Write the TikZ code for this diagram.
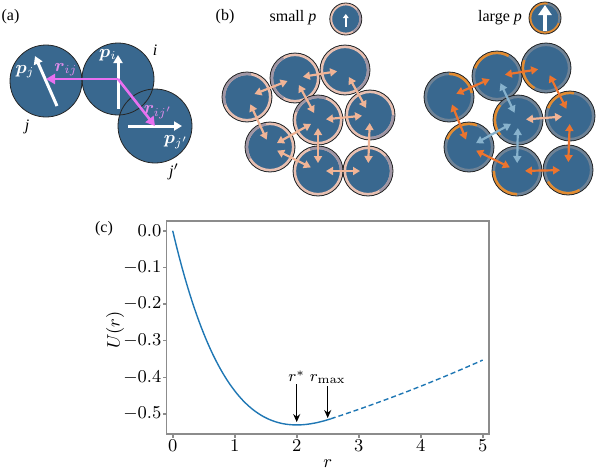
\documentclass[tikz,border=0pt]{standalone}
\usepackage[no-math]{fontspec}
\usepackage{bm}
\usetikzlibrary{arrows.meta}
\newfontfamily\tms{Liberation Serif}
\definecolor{disc}{RGB}{57,104,143}
\definecolor{rvec}{RGB}{232,112,240}
\definecolor{rlab}{RGB}{225,140,235}
\definecolor{peach}{RGB}{240,180,150}
\definecolor{pring}{RGB}{232,192,178}
\definecolor{gring}{RGB}{160,150,165}
\definecolor{orng}{RGB}{236,116,46}
\definecolor{oring}{RGB}{226,140,50}
\definecolor{bring}{RGB}{110,130,150}
\definecolor{lblue}{RGB}{135,178,205}
\definecolor{mplblue}{RGB}{31,119,180}
\begin{document}
\begin{tikzpicture}[x=0.5pt,y=-0.5pt,line width=0.4pt,
  rim/.style={draw=black!85},
  ring/.style={line width=1.4pt},
  pol/.style={white,line width=1.5pt,-{Triangle[length=4pt,width=4.5pt]}},
  rv/.style={rvec,line width=1.3pt,-{Triangle[length=4.5pt,width=5pt]}},
  pair/.style={line width=1.1pt,{Triangle[length=3.5pt,width=4pt]}-{Triangle[length=3.5pt,width=4pt]},shorten <=4pt,shorten >=4pt},
  lab/.style={font=\tms\footnotesize},
  ital/.style={font=\tms\itshape\footnotesize},
  vlab/.style={font=\small},
  ticklab/.style={inner sep=1pt,font=\small}]
\useasboundingbox (0,0) rectangle (600,473);
% (a)
\node[lab] (la) at (10.5,17) {(a)};
\coordinate (j) at (46,81);
\coordinate (i) at (118,79);
\coordinate (jp) at (155,126);
\fill[disc] (j) circle[radius=36];
\fill[disc] (jp) circle[radius=37];
\fill[disc] (i) circle[radius=36];
\draw[rim] (j) circle[radius=36];
\draw[rim] (jp) circle[radius=37];
\draw[rim] (i) circle[radius=36];
\draw[pol] ([shift={(11,25)}]j) -- ([shift={(-11,-25)}]j);
\draw[pol] ([shift={(0,30)}]i) -- ([shift={(0,-24)}]i);
\draw[pol] ([shift={(-27,0)}]jp) -- ([shift={(27,0)}]jp);
\draw[rv] (i) -- (i -| j);
\draw[rv] (i) -- (jp);
\node[white,vlab] at (25,72) {$\bm{p}_j$};
\node[white,vlab] at (108,55) {$\bm{p}_i$};
\node[white,vlab] at (176,142) {$\bm{p}_{j'}$};
\node[rlab,vlab] at (66,70) {$\bm{r}_{ij}$};
\node[rlab,vlab] at (158,112) {$\bm{r}_{ij'}$};
\node[ital] at (155,50) {i};
\node[ital] at (27,127) {j};
\node[ital] at (174,172) {j$'$};
% (b)
\node[lab] (lb) at (225,17) {(b)};
\node[lab] at (293,18) {small {\itshape p}};
\node[lab] at (500,18) {large {\itshape p}};
\coordinate (ps) at (345.8,19);
\coordinate (pl) at (545,18);
\fill[disc] (ps) circle[radius=16];
\draw[pring,line width=1.2pt] (ps) circle[radius=14.8];
\draw[gring,line width=1.2pt] ([shift={(-40:14.8)}]ps) arc[start angle=-40,end angle=60,radius=14.8];
\draw[rim] (ps) circle[radius=16];
\draw[white,line width=0.8pt,-{Triangle[length=2pt,width=2.8pt]}] ([shift={(0,8)}]ps) -- ([shift={(0,-5)}]ps);
\fill[disc] (pl) circle[radius=16];
\draw[oring,line width=1.2pt] (pl) circle[radius=14.8];
\draw[bring,line width=1.2pt] ([shift={(-80:14.8)}]pl) arc[start angle=-80,end angle=20,radius=14.8];
\draw[rim] (pl) circle[radius=16];
\draw[white,line width=2pt,-{Triangle[length=5pt,width=6.5pt]}] ([shift={(0,13)}]pl) -- ([shift={(0,-13)}]pl);
\foreach \n/\x/\y/\a/\b in {1/295/78/120/240,2/345/70/-30/60,3/247/97/160/280,4/318/120/200/290,
    5/370/115/0/90,6/270/147/150/260,7/318/171/250/360,8/368/171/-40/60}{
  \coordinate (s\n) at (\x,\y);
  \fill[disc] (s\n) circle[radius=25];
  \draw[pring,ring] (s\n) circle[radius=23.3];
  \draw[gring,ring] ([shift={(\a:23.3)}]s\n) arc[start angle=\a,end angle=\b,radius=23.3];
  \draw[rim] (s\n) circle[radius=25];
}
\foreach \n/\x/\y/\a/\b in {1/497/76/200/300,2/546/68/120/200,3/449/97/270/350,4/518/120/140/220,
    5/570/116/200/280,6/469/147/200/290,7/517/171/90/180,8/568/170/60/150}{
  \coordinate (l\n) at (\x,\y);
  \fill[disc] (l\n) circle[radius=25];
  \draw[bring,ring] (l\n) circle[radius=23.3];
  \draw[oring,ring] ([shift={(\a:23.3)}]l\n) arc[start angle=\a,end angle=\b,radius=23.3];
  \draw[rim] (l\n) circle[radius=25];
}
\foreach \p/\q in {1/2,1/3,1/4,2/5,3/6,4/5,4/6,4/7,5/8,6/7,7/8}
  \draw[pair,peach] (s\p) -- (s\q);
\foreach \p/\q/\c in {1/2/orng,1/3/orng,1/4/lblue,2/5/orng,3/6/orng,4/5/peach,4/6/lblue,4/7/lblue,5/8/orng,6/7/orng,7/8/orng}
  \draw[pair,\c] (l\p) -- (l\q);
% (c)
\node[lab] (lc) at (104,229) {(c)};
\begin{scope}[shift={(172.7,230.7)},x=31pt,y=183.3pt]
\draw[black!45,line width=0.8pt] (-0.097,-0.5546) rectangle (5.106,0.027);
\foreach \t in {0,...,5}{
  \draw[black!45,line width=0.8pt] (\t,-0.5546) -- ++(0,-0.011);
  \node[ticklab,anchor=base] at (\t,-0.603) {$\t$};
}
\foreach \u/\s in {0/0.0,1/-0.1,2/-0.2,3/-0.3,4/-0.4,5/-0.5}{
  \draw[black!45,line width=0.8pt] (-0.097,-\u/10) -- ++(-0.065,0);
  \node[ticklab,anchor=east] at (-0.145,-\u/10) {$\s$};
}
\node[vlab,rotate=90] (ylab) at (-0.93,-0.271) {$U(r)$};
\node[vlab,anchor=base] (xlab) at (2.5,-0.647) {$r$};
\draw[mplblue,line width=0.7pt] plot[domain=0:2.55,samples=80,smooth] (\x,{-0.72*\x*exp(-\x/2)});
\draw[mplblue,line width=0.7pt,dash pattern=on 2.5pt off 1.5pt] plot[domain=2.55:5,samples=30,smooth] (\x,{-0.513+0.0553*(\x-2.55)+0.0041*(\x-2.55)^2});
\node[ticklab,font=\footnotesize,anchor=base] (rst) at (2,-0.412) {$r^*$};
\node[ticklab,font=\footnotesize,anchor=base] (rmx) at (2.5,-0.412) {$r_{\max}$};
\coordinate (rs) at (2,-0.522);
\coordinate (rm) at (2.5,-0.511);
\draw[line width=0.6pt,-{Stealth[length=4pt,width=3.5pt]}] (rst) -- (rs);
\draw[line width=0.6pt,-{Stealth[length=4pt,width=3.5pt]}] (rmx) -- (rm);
\end{scope}
\end{tikzpicture}
\end{document}
